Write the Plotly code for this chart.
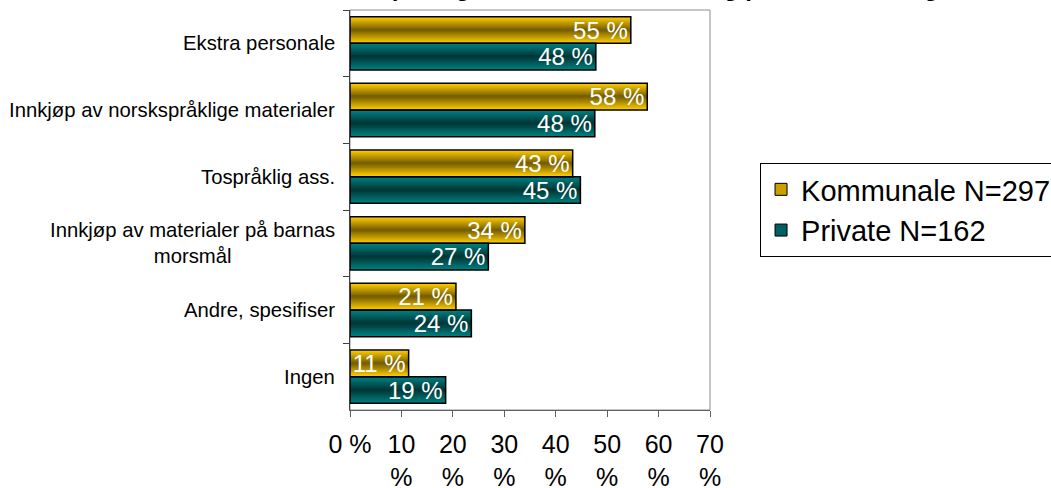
import plotly.graph_objects as go

# ---------------- data ----------------
categories = [
    "Ekstra personale",
    "Innkjøp av norskspråklige materialer",
    "Tospråklig ass.",
    "Innkjøp av materialer på barnas morsmål",
    "Andre, spesifiser",
    "Ingen",
]
category_labels = [
    "Ekstra personale",
    "Innkjøp av norskspråklige materialer",
    "Tospråklig ass.",
    "Innkjøp av materialer på barnas<br>morsmål",
    "Andre, spesifiser",
    "Ingen",
]
kommunale = [54.6, 57.8, 43.3, 34.0, 20.6, 11.4]
private = [47.8, 47.6, 44.8, 26.9, 23.6, 18.6]
series_names = ["Kommunale N=297", "Private N=162"]
x_tickvals = [0, 10, 20, 30, 40, 50, 60, 70]
x_ticktext = ["0 %", "10<br>%", "20<br>%", "30<br>%", "40<br>%", "50<br>%", "60<br>%", "70<br>%"]
title_text = "Bruk av tilskudd til språklig arbeid i kommunale og private barnehager"

# ---------------- style ----------------
FONT = "Arial, 'Liberation Sans', sans-serif"
series_values = [kommunale, private]
bright = [(255, 204, 0), (0, 128, 128)]
dark = [(120, 96, 0), (0, 56, 56)]
legend_col = ["#c9a000", "#005f5f"]
offsets = [-0.4, 0.0]
W = 0.4
N_LAYERS = 14


def mix(c1, c2, t):
    return "rgb(%d,%d,%d)" % tuple(round(a + (b - a) * t) for a, b in zip(c1, c2))


fig = go.Figure()

# legend entries
for s in range(2):
    fig.add_trace(go.Bar(
        x=[None] * len(categories), y=categories, orientation="h",
        name=series_names[s],
        marker=dict(color=legend_col[s], line=dict(color="black", width=1)),
        hoverinfo="skip",
    ))

# gradient layers
for s in range(2):
    for k in range(N_LAYERS):
        w = W * (1 - k / N_LAYERS)
        off = offsets[s] + (W - w) / 2
        fig.add_trace(go.Bar(
            x=series_values[s], y=categories, orientation="h",
            offset=off, width=w,
            marker=dict(color=mix(bright[s], dark[s], k / (N_LAYERS - 1)), line=dict(width=0)),
            showlegend=False, hoverinfo="skip",
        ))

# outline + labels
for s in range(2):
    fig.add_trace(go.Bar(
        x=series_values[s], y=categories, orientation="h",
        offset=offsets[s], width=W,
        marker=dict(color="rgba(0,0,0,0)", line=dict(color="black", width=1.5)),
        texttemplate="%{x:.0f} %", textposition="inside", insidetextanchor="end",
        constraintext="none",
        textfont=dict(family=FONT, size=24, color="white"),
        showlegend=False, name=series_names[s],
    ))

annotations = []
for cat, lab in zip(categories, category_labels):
    annotations.append(dict(
        x=0, xref="paper", y=cat, yref="y", xanchor="right", yanchor="middle",
        xshift=-13, text=lab, showarrow=False, align="center",
        font=dict(family=FONT, size=20.3, color="black"),
    ))
annotations.append(dict(
    x=0.58, xref="paper", y=1.012, yref="paper", xanchor="center", yanchor="bottom",
    yshift=2,
    text="<b>" + title_text + "</b>", showarrow=False,
    font=dict(family=FONT, size=24, color="black"),
))

fig.update_layout(
    width=1051, height=488,
    barmode="overlay",
    paper_bgcolor="white", plot_bgcolor="white",
    margin=dict(l=350, r=341, t=10, b=78, autoexpand=False),
    font=dict(family=FONT, color="black"),
    showlegend=True,
    legend=dict(
        x=1.139, xanchor="left", y=0.6175, yanchor="top",
        bgcolor="white", bordercolor="black", borderwidth=1,
        font=dict(family=FONT, size=29, color="black"),
        traceorder="normal", tracegroupgap=8,
    ),
    annotations=annotations,
    shapes=[dict(type="rect", xref="paper", yref="paper", x0=0, x1=1, y0=0, y1=1,
                 line=dict(color="#8c8c8c", width=1), layer="below")],
    xaxis=dict(
        range=[0, 70], tickvals=x_tickvals, ticktext=x_ticktext,
        showgrid=False, zeroline=False,
        showline=True, linecolor="#606060", linewidth=1.3,
        ticks="outside", ticklen=6, tickcolor="#606060",
        ticklabelstandoff=6,
        tickfont=dict(family=FONT, size=25, color="black"),
    ),
    yaxis=dict(
        type="category", categoryorder="array", categoryarray=categories,
        range=[len(categories) - 0.5, -0.5],
        showticklabels=False, showgrid=False, zeroline=False,
        showline=True, linecolor="#404040", linewidth=1.3,
        ticks="outside", ticklen=6, tickcolor="#404040", tickson="boundaries",
    ),
)

fig.write_html(
    "out.html",
    config={"displayModeBar": False},
    post_script="document.body.style.margin='0';document.body.style.overflow='hidden';",
)
